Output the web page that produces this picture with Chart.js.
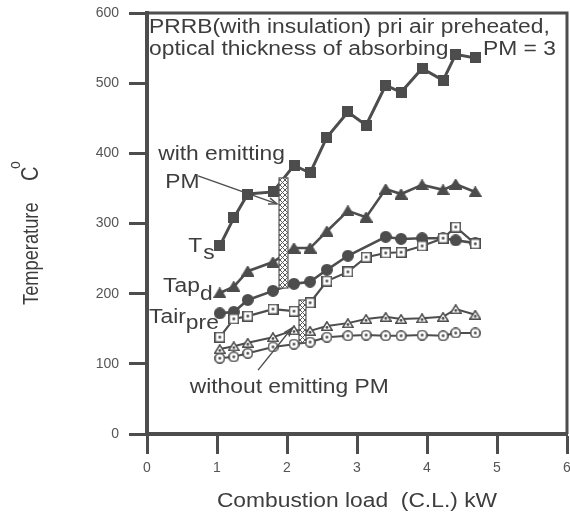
<!DOCTYPE html>
<html><head><meta charset="utf-8">
<script src="https://cdn.jsdelivr.net/npm/chart.js@4.4.0/dist/chart.umd.min.js"></script>
<style>html,body{margin:0;padding:0;background:#fff}canvas{display:block}</style>
</head><body>
<canvas id="c" width="570" height="515"></canvas>
<script>
// ---------- data ----------
const loadKW      = [1.04,1.24,1.44,1.80,2.10,2.33,2.57,2.87,3.13,3.41,3.63,3.93,4.23,4.41,4.69];
const tsWith      = [268,308,342,345,383,372,423,459,440,497,487,521,504,541,536];   // filled squares
const tapdWith    = [201,210,232,245,265,265,289,318,309,349,342,355,348,356,345];   // filled triangles
const tapLoad     = [1.04,1.24,1.44,1.80,2.10,2.33,2.57,2.87,3.41,3.63,3.93,4.23,4.41,4.69];
const tapWith     = [172,174,191,204,214,217,234,254,281,278,279,279,276,272];       // filled circles
const tairPre     = [138,164,168,178,175,187,218,231,252,258,259,268,279,295,271];   // open squares
const tapdWithout = [121,125,130,138,148,147,154,158,164,167,164,165,167,178,170];   // open triangles
const tapWithout  = [108,110,115,124,128,131,138,140,141,140,140,141,140,144,144];   // open circles
const yTickVals = [0,100,200,300,400,500,600];
const xTickVals = [0,1,2,3,4,5,6];

// ---------- style ----------
const INK = '#4d4d4d';
const TXT = '#3d3d3d';
const FAM = '"Liberation Sans", Arial, Helvetica, sans-serif';
const SX = 1.17; // horizontal stretch of the scanned lettering
Chart.defaults.font.family = FAM;

function marker(shape, filled, w, h) {
  const c = document.createElement('canvas');
  c.width = w; c.height = h;
  const g = c.getContext('2d');
  g.fillStyle = filled ? INK : '#fff';
  g.strokeStyle = INK; g.lineWidth = 1.6;
  g.beginPath();
  if (shape === 'square') g.rect(0.8, 0.8, w - 1.6, h - 1.6);
  else if (shape === 'circle') g.arc(w / 2, h / 2, w / 2 - 0.8, 0, Math.PI * 2);
  else { g.moveTo(w / 2, 0.8); g.lineTo(w - 0.8, h - 0.8); g.lineTo(0.8, h - 0.8); g.closePath(); }
  g.fill(); g.stroke();
  if (!filled) {
    g.beginPath(); g.fillStyle = INK;
    g.arc(w / 2, shape === 'triangle' ? h * 0.64 : h / 2, 1.4, 0, Math.PI * 2); g.fill();
  }
  return c;
}

function pts(xs, ys) { return ys.map((v, i) => ({ x: xs[i], y: v })); }

function series(data, style, lw) {
  return { data, showLine: true, borderColor: INK, borderWidth: lw, pointStyle: style,
           pointRadius: 5, pointHoverRadius: 5, fill: false, tension: 0 };
}

// ---------- annotations (layout, in data units) ----------
const NOTE = {
  title1: { x: 0.03, y: 571 }, title2: { x: 0.03, y: 540 }, title3: { x: 4.80, y: 540 },
  withE: { x: 0.16, y: 390 }, withPM: { x: 0.26, y: 350 },
  ts: { x: 0.59, y: 259 }, tapd: { x: 0.23, y: 202 }, tair: { x: 0.03, y: 158 },
  without: { x: 0.61, y: 58 },
  bar1: { x0: 1.886, x1: 2.014, y0: 208, y1: 365 },
  bar2: { x0: 2.171, x1: 2.271, y0: 130, y1: 191 },
  arrow1: { x0: 0.73, y0: 368, x1: 1.857, y1: 328 },
  arrow2: { x0: 1.586, y0: 91, x1: 2.071, y1: 151 }
};

function sText(ctx, str, x, y, size, align) {
  ctx.save();
  ctx.translate(x, y);
  ctx.scale(SX, 1);
  ctx.font = size + 'px ' + FAM;
  ctx.textAlign = align || 'left';
  ctx.textBaseline = 'alphabetic';
  ctx.fillStyle = TXT;
  ctx.fillText(str, 0, 0);
  const w = ctx.measureText(str).width * SX;
  ctx.restore();
  return w;
}

function hatchPattern(ctx) {
  const p = document.createElement('canvas'); p.width = 5; p.height = 5;
  const g = p.getContext('2d');
  g.fillStyle = '#fff'; g.fillRect(0, 0, 5, 5);
  g.strokeStyle = '#5a5a5a'; g.lineWidth = 1;
  g.beginPath(); g.moveTo(0, 0); g.lineTo(5, 5); g.moveTo(5, 0); g.lineTo(0, 5); g.stroke();
  return ctx.createPattern(p, 'repeat');
}

function arrow(ctx, x0, y0, x1, y1) {
  ctx.save();
  ctx.strokeStyle = INK; ctx.lineWidth = 1.4;
  ctx.beginPath(); ctx.moveTo(x0, y0); ctx.lineTo(x1, y1); ctx.stroke();
  const a = Math.atan2(y1 - y0, x1 - x0), L = 9;
  ctx.beginPath();
  ctx.moveTo(x1 - L * Math.cos(a - 0.35), y1 - L * Math.sin(a - 0.35));
  ctx.lineTo(x1, y1);
  ctx.lineTo(x1 - L * Math.cos(a + 0.35), y1 - L * Math.sin(a + 0.35));
  ctx.stroke();
  ctx.restore();
}

const decor = {
  id: 'decor',
  afterDatasetsDraw(chart) {
    const { ctx, scales: { x, y } } = chart;
    const pat = hatchPattern(ctx);
    [NOTE.bar1, NOTE.bar2].forEach(b => {
      const l = x.getPixelForValue(b.x0), r = x.getPixelForValue(b.x1);
      const t = y.getPixelForValue(b.y1), btm = y.getPixelForValue(b.y0);
      ctx.save();
      ctx.fillStyle = pat; ctx.fillRect(l, t, r - l, btm - t);
      ctx.strokeStyle = '#555'; ctx.lineWidth = 1.2; ctx.strokeRect(l, t, r - l, btm - t);
      ctx.restore();
    });
    [NOTE.arrow1, NOTE.arrow2].forEach(a => arrow(ctx,
      x.getPixelForValue(a.x0), y.getPixelForValue(a.y0),
      x.getPixelForValue(a.x1), y.getPixelForValue(a.y1)));
  },
  afterDraw(chart) {
    const { ctx, chartArea: ca, scales: { x, y } } = chart;
    // frame top & right
    ctx.save();
    ctx.strokeStyle = INK; ctx.lineWidth = 3;
    ctx.beginPath(); ctx.moveTo(ca.left, ca.top); ctx.lineTo(ca.right, ca.top); ctx.lineTo(ca.right, ca.bottom); ctx.stroke();
    ctx.restore();
    const P = (p) => [x.getPixelForValue(p.x), y.getPixelForValue(p.y)];
    const F = 19.5;
    let q;
    q = P(NOTE.title1); sText(ctx, 'PRRB(with insulation) pri air preheated,', q[0], q[1], F);
    q = P(NOTE.title2); sText(ctx, 'optical thickness of absorbing', q[0], q[1], F);
    q = P(NOTE.title3); sText(ctx, 'PM = 3', q[0], q[1], F);
    q = P(NOTE.withE); sText(ctx, 'with emitting', q[0], q[1], F);
    q = P(NOTE.withPM); sText(ctx, 'PM', q[0], q[1], F);
    q = P(NOTE.ts); let w = sText(ctx, 'T', q[0], q[1], F); sText(ctx, 's', q[0] + w + 1, q[1] + 7, F);
    q = P(NOTE.tapd); w = sText(ctx, 'Tap', q[0], q[1], F); sText(ctx, 'd', q[0] + w, q[1] + 8, F);
    q = P(NOTE.tair); w = sText(ctx, 'Tair', q[0], q[1], F); sText(ctx, 'pre', q[0] + w, q[1] + 6, F);
    q = P(NOTE.without); sText(ctx, 'without emitting PM', q[0], q[1], F);
    // axis titles
    sText(ctx, 'Combustion load  (C.L.) kW', (ca.left + ca.right) / 2, 507, 19.5, 'center');
    ctx.save();
    ctx.translate(38, 305);
    ctx.rotate(-Math.PI / 2);
    ctx.scale(1, SX);
    ctx.fillStyle = TXT; ctx.textBaseline = 'alphabetic'; ctx.textAlign = 'left';
    ctx.font = '18.3px ' + FAM;
    ctx.fillText('Temperature', 0, 0);
    ctx.font = '20px ' + FAM;
    ctx.fillText('C', 124, 0);
    ctx.font = '14px ' + FAM;
    ctx.fillText('o', 136, -15);
    ctx.restore();
  }
};

new Chart(document.getElementById('c'), {
  type: 'scatter',
  data: {
    datasets: [
      series(pts(loadKW, tsWith), marker('square', true, 11, 11), 3),
      series(pts(loadKW, tapdWith), marker('triangle', true, 13, 11), 2.6),
      series(pts(loadKW, tairPre), marker('square', false, 11, 11), 2.2),
      series(pts(tapLoad, tapWith), marker('circle', true, 12, 12), 2.6),
      series(pts(loadKW, tapdWithout), marker('triangle', false, 12, 10), 2),
      series(pts(loadKW, tapWithout), marker('circle', false, 11, 11), 2)
    ]
  },
  options: {
    responsive: false, animation: false, devicePixelRatio: 1,
    layout: { autoPadding: false, padding: { top: 13, right: 3, left: 0, bottom: 0 } },
    plugins: { legend: { display: false }, tooltip: { enabled: false } },
    scales: {
      x: {
        type: 'linear', min: 0, max: 6,
        afterBuildTicks: s => { s.ticks = xTickVals.map(v => ({ value: v })); },
        afterFit: s => { s.height = 81; s.paddingLeft = 0; s.paddingRight = 0; },
        ticks: { font: { size: 14 }, color: '#555', padding: 6 },
        grid: { drawOnChartArea: false, drawTicks: true, tickLength: 20, tickWidth: 3, tickColor: INK },
        border: { display: true, width: 4, color: INK }
      },
      y: {
        type: 'linear', min: 0, max: 600,
        afterBuildTicks: s => { s.ticks = yTickVals.map(v => ({ value: v })); },
        afterFit: s => { s.width = 147; s.paddingTop = 0; s.paddingBottom = 0; },
        ticks: { font: { size: 14 }, color: '#555', padding: 10 },
        grid: { drawOnChartArea: false, drawTicks: true, tickLength: 18, tickWidth: 3, tickColor: INK },
        border: { display: true, width: 4, color: INK }
      }
    }
  },
  plugins: [decor]
});
</script>
</body></html>
